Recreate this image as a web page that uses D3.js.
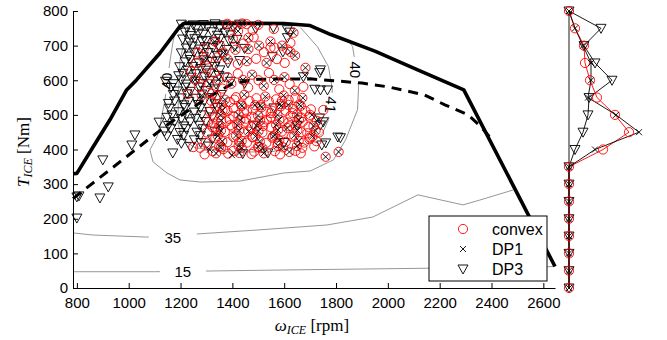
<!DOCTYPE html>
<html>
<head>
<meta charset="utf-8">
<script src="https://d3js.org/d3.v7.min.js"></script>
<style>
  html, body { margin: 0; padding: 0; background: #fff; }
  svg { display: block; }
</style>
</head>
<body>
<div id="chart"></div>
<script>
// ---- data -------------------------------------------------------------
// full load (max torque) curve [rpm, Nm]
const wotCurve = [
  [785, 330], [800, 331], [863, 408], [927, 485], [992, 572], [1030, 601],
  [1120, 678], [1197, 755], [1217, 765], [1600, 764], [1700, 758],
  [1780, 732], [1950, 684], [2115, 630], [2293, 572], [2645, 62]
];

// optimal operating line (dashed)
const optLine = [
  [785, 258], [1148, 471], [1300, 548], [1400, 590], [1500, 603], [1700, 604],
  [1900, 592], [2000, 581], [2140, 558], [2220, 529], [2310, 500],
  [2360, 465], [2392, 437]
];

// efficiency contours
const contour15 = [[785, 47], [1100, 47], [1300, 49], [1700, 53], [2150, 57], [2500, 59], [2640, 62]];
const contour35 = [
  [785, 159], [862, 153], [1074, 147], [1263, 156], [1506, 168], [1765, 182],
  [1942, 205], [2116, 269], [2290, 240], [2355, 254], [2483, 283]
];
const contour40 = [
  [1178, 735], [1171, 711], [1160, 659], [1140, 544], [1121, 471], [1109, 437],
  [1082, 399], [1094, 364], [1148, 332], [1198, 312], [1276, 306], [1431, 309],
  [1597, 332], [1701, 338], [1790, 370], [1837, 428], [1883, 515], [1887, 581],
  [1875, 645], [1864, 697], [1850, 712]
];
const contour41 = [
  [1229, 757], [1198, 659], [1191, 544], [1191, 471], [1210, 428], [1256, 405],
  [1392, 393], [1547, 393], [1663, 408], [1721, 428], [1748, 448], [1771, 486],
  [1779, 529], [1786, 572], [1771, 639], [1728, 697], [1663, 752]
];
// [rpm, Nm, text, rotation, gap width]
const contourLabels = [
  [1170, 147, '35', 0, 48],
  [1209, 46, '15', 0, 46],
  [1145, 598, '40', -90, 26],
  [1873, 630, '40', 90, 26],
  [1780, 529, '41', 95, 24]
];

// operating points
const convexPts = [
  [1380, 763], [1400, 757], [1438, 764], [1455, 762], [1500, 760], [1478, 745], [1422, 742], [1560, 748],
  [1290, 692], [1332, 712], [1352, 700], [1366, 680], [1402, 720], [1412, 688], [1442, 706], [1462, 690],
  [1482, 724], [1503, 700], [1522, 681], [1547, 712], [1562, 694], [1592, 700], [1612, 689], [1636, 737],
  [1624, 682], [1624, 708], [1547, 694], [1462, 723], [1642, 671], [1602, 650], [1572, 661], [1532, 650],
  [1492, 662], [1456, 655], [1421, 647], [1381, 661], [1342, 666], [1302, 660], [1268, 680], [1682, 636],
  [1240, 626], [1256, 601], [1272, 581], [1291, 611], [1311, 589], [1331, 621], [1346, 602], [1362, 576],
  [1382, 609], [1396, 590], [1421, 619], [1441, 601], [1461, 579], [1476, 616], [1501, 600], [1521, 584],
  [1541, 621], [1561, 601], [1581, 574], [1601, 609], [1621, 589], [1641, 570], [1674, 581], [1670, 549],
  [1616, 529], [1282, 556], [1322, 561], [1300, 641], [1260, 650], [1228, 560], [1700, 500], [1751, 514],
  [1760, 379], [1810, 393],
  [1338, 556], [1371, 544], [1414, 551], [1446, 558], [1493, 548], [1527, 553], [1569, 545], [1598, 556], [1643, 549],
  [1318, 541], [1359, 529], [1391, 537], [1433, 530], [1466, 540], [1508, 528], [1541, 539], [1584, 531], [1617, 543], [1658, 530],
  [1334, 524], [1362, 513], [1404, 520], [1437, 526], [1479, 515], [1512, 522], [1553, 512], [1587, 525], [1634, 517], [1664, 526], [1703, 516],
  [1312, 509], [1354, 499], [1381, 511], [1424, 500], [1457, 510], [1499, 498], [1531, 509], [1574, 500], [1606, 512], [1649, 501], [1682, 511],
  [1328, 494], [1357, 484], [1404, 496], [1431, 485], [1474, 495], [1507, 483], [1549, 494], [1581, 486], [1624, 497], [1657, 485], [1697, 495], [1726, 483],
  [1307, 479], [1349, 468], [1377, 481], [1419, 470], [1451, 480], [1494, 468], [1521, 479], [1569, 471], [1597, 482], [1644, 470], [1671, 480], [1713, 468],
  [1324, 464], [1356, 454], [1399, 466], [1426, 455], [1474, 465], [1501, 453], [1549, 464], [1576, 456], [1619, 467], [1651, 455], [1694, 465], [1721, 454],
  [1302, 449], [1344, 439], [1371, 451], [1414, 440], [1446, 450], [1489, 438], [1516, 449], [1564, 441], [1591, 452], [1639, 440], [1666, 450], [1709, 438], [1734, 449],
  [1334, 434], [1361, 424], [1404, 436], [1436, 425], [1479, 435], [1506, 423], [1554, 434], [1581, 426], [1629, 437], [1656, 425], [1699, 435], [1724, 424],
  [1297, 419], [1349, 409], [1381, 421], [1424, 410], [1456, 420], [1499, 408], [1531, 419], [1574, 411], [1606, 422], [1649, 410], [1676, 420], [1716, 409],
  [1276, 405], [1324, 395], [1356, 406], [1404, 396], [1436, 405], [1484, 394], [1516, 404], [1564, 395], [1596, 406], [1644, 396], [1670, 405],
  [1249, 407], [1293, 386], [1337, 389], [1384, 388], [1427, 390], [1474, 387], [1521, 389], [1584, 386], [1620, 393], [1664, 389],
  [1392, 470], [1462, 452], [1533, 486], [1612, 462], [1372, 515], [1488, 528], [1557, 438], [1633, 505], [1426, 422],
  [1502, 407], [1689, 447], [1343, 458], [1453, 489], [1591, 541], [1519, 468], [1667, 492], [1408, 544], [1576, 418],
  [1365, 401], [1477, 436], [1548, 505], [1616, 478], [1389, 488], [1444, 507], [1697, 430], [1328, 475]
];

const dp1Pts = [
  [1438, 764], [1498, 762], [1400, 757], [1422, 742],
  [1332, 712], [1366, 680], [1412, 688], [1462, 690], [1503, 700], [1547, 712], [1592, 700], [1624, 682],
  [1636, 737], [1462, 723], [1642, 671], [1532, 650], [1456, 655], [1381, 661], [1302, 660], [1682, 636],
  [1256, 601], [1311, 589], [1346, 602], [1396, 590], [1441, 601], [1476, 616], [1521, 584], [1561, 601],
  [1601, 609], [1641, 570], [1672, 549], [1680, 615], [1616, 529], [1282, 556], [1707, 500], [1760, 379],
  [1810, 393], [1313, 399], [1398, 384],
  [1371, 544], [1446, 558], [1527, 553], [1598, 556],
  [1359, 529], [1433, 530], [1508, 528], [1584, 531], [1658, 530],
  [1362, 513], [1437, 526], [1512, 522], [1587, 525], [1664, 526],
  [1354, 499], [1424, 500], [1499, 498], [1574, 500], [1649, 501],
  [1357, 484], [1431, 485], [1507, 483], [1581, 486], [1657, 485], [1726, 483],
  [1349, 468], [1419, 470], [1494, 468], [1569, 471], [1644, 470], [1713, 468],
  [1356, 454], [1426, 455], [1501, 453], [1576, 456], [1651, 455], [1721, 454],
  [1344, 439], [1414, 440], [1489, 438], [1564, 441], [1639, 440], [1709, 438],
  [1361, 424], [1436, 425], [1506, 423], [1581, 426], [1656, 425],
  [1349, 409], [1424, 410], [1499, 408], [1574, 411], [1649, 410],
  [1356, 406], [1436, 405], [1516, 404], [1596, 406],
  [1337, 389], [1427, 390], [1521, 389], [1620, 393],
  [1462, 452], [1612, 462], [1488, 528], [1557, 438]
];

const dp3Pts = [
  [1203, 762], [1224, 754], [1249, 760], [1261, 752], [1288, 761], [1304, 755], [1333, 763], [1352, 753],
  [1370, 760], [1404, 754], [1428, 762], [1490, 750], [1558, 752], [1612, 746],
  [1217, 739], [1237, 729], [1269, 736], [1287, 733], [1321, 740], [1342, 730], [1371, 737], [1393, 731],
  [1208, 719], [1235, 710], [1255, 720], [1283, 713], [1297, 715], [1333, 711], [1352, 721], [1388, 714],
  [1418, 718], [1612, 723], [1622, 739],
  [1222, 693], [1245, 699], [1275, 690], [1295, 697], [1325, 694], [1347, 700], [1378, 689], [1408, 698],
  [1447, 692], [1595, 682],
  [1203, 679], [1233, 670], [1252, 681], [1288, 668], [1307, 680], [1343, 671], [1359, 676], [1554, 668],
  [1218, 653], [1237, 660], [1271, 650], [1289, 659], [1321, 654], [1342, 656], [1383, 650], [1428, 657],
  [1197, 639], [1228, 629], [1247, 640], [1278, 634], [1297, 629], [1333, 640], [1352, 630], [1740, 630], [1737, 622],
  [1193, 613], [1209, 620], [1241, 609], [1259, 619], [1293, 610], [1312, 621], [1348, 614], [1369, 609], [1674, 610],
  [1142, 597], [1172, 590], [1203, 601], [1222, 589], [1258, 598], [1277, 591], [1313, 600], [1337, 589], [1393, 597], [1447, 591],
  [1163, 579], [1187, 569], [1218, 580], [1237, 568], [1273, 580], [1297, 570], [1333, 575], [1740, 572], [1767, 572], [1718, 574],
  [1172, 559], [1203, 549], [1225, 561], [1258, 548], [1282, 560], [1323, 550], [1357, 559],
  [1153, 533], [1177, 540], [1213, 529], [1232, 539], [1268, 530], [1292, 540], [1333, 532],
  [1157, 519], [1193, 509], [1217, 521], [1253, 508], [1277, 520], [1313, 510], [1342, 521],
  [1148, 493], [1167, 500], [1203, 489], [1222, 500], [1258, 490], [1282, 500], [1323, 494], [1737, 491],
  [1117, 479], [1153, 469], [1177, 481], [1213, 468], [1237, 480], [1273, 470], [1297, 481], [1751, 480], [1740, 471],
  [1138, 453], [1162, 460], [1198, 449], [1222, 460], [1263, 450], [1287, 460], [1333, 453],
  [1147, 439], [1188, 429], [1212, 441], [1253, 428], [1277, 440], [1323, 430], [1817, 434], [1807, 436], [1760, 419], [1745, 413],
  [1203, 418], [1237, 409], [1278, 420], [1307, 410],
  [1170, 390], [1440, 388], [1537, 390], [1600, 420], [1480, 470], [1560, 520], [1650, 470],
  [1024, 442], [1012, 413], [900, 370], [921, 292], [889, 260], [800, 263], [808, 266], [800, 202]
];

// side panel: number of points per torque level
const torqueBins = [800, 750, 700, 650, 600, 550, 500, 450, 400, 350, 300, 250, 200, 150, 100, 50, 0];
const convexCount = [0, 6, 15, 16, 21, 28, 46, 60, 34, 0, 0, 0, 0, 0, 0, 0, 0];
const dp1Count = [0, 6, 14, 22, 22, 19, 47, 70, 26, 0, 0, 0, 0, 0, 0, 0, 0];
const dp3Count = [0, 32, 15, 26, 43, 20, 19, 14, 6, 0, 0, 0, 0, 0, 0, 0, 0];

const xTicks = [800, 1000, 1200, 1400, 1600, 1800, 2000, 2200, 2400, 2600];
const yTicks = [0, 100, 200, 300, 400, 500, 600, 700, 800];

// ---- layout -----------------------------------------------------------
const width = 667, height = 340;
const sans = '"Liberation Sans", Arial, Helvetica, sans-serif';
const serif = '"Liberation Serif", "Times New Roman", serif';

const svg = d3.select('#chart').append('svg')
  .attr('width', width).attr('height', height)
  .style('background', '#fff');

const x = d3.scaleLinear().domain([785, 2645]).range([73, 555]);
const y = d3.scaleLinear().domain([0, 800]).range([288, 11]);
const distX = d3.scaleLinear().domain([0, 80]).range([569, 649]);

const line = d3.line().x(d => x(d[0])).y(d => y(d[1]));

// contours
const contours = [contour15, contour35, contour40, contour41];
svg.append('g').selectAll('path').data(contours).enter().append('path')
  .attr('d', line)
  .attr('fill', 'none')
  .attr('stroke', '#8a8a8a')
  .attr('stroke-width', 0.9);

// contour labels (with a gap cut into the line)
const lab = svg.append('g').selectAll('g').data(contourLabels).enter().append('g')
  .attr('transform', d => `translate(${x(d[0])},${y(d[1])}) rotate(${d[3]})`);
lab.append('rect')
  .attr('x', d => -d[4] / 2).attr('y', -7)
  .attr('width', d => d[4]).attr('height', 14)
  .attr('fill', '#fff');
lab.append('text')
  .attr('text-anchor', 'middle')
  .attr('dy', '0.36em')
  .style('font-family', sans)
  .style('font-size', '15px')
  .text(d => d[2]);

// full load curve + operating line
svg.append('path').attr('d', line(wotCurve))
  .attr('fill', 'none').attr('stroke', '#000').attr('stroke-width', 3.6)
  .attr('stroke-linejoin', 'round');
svg.append('path').attr('d', line(optLine))
  .attr('fill', 'none').attr('stroke', '#000').attr('stroke-width', 3)
  .attr('stroke-dasharray', '10,7');

// markers
const triPath = 'M-5,-4L5,-4L0,5Z';
const crossPath = 'M-3,-3L3,3M-3,3L3,-3';

function drawTri(g, pts, fx, fy) {
  g.selectAll(null).data(pts).enter().append('path')
    .attr('d', triPath)
    .attr('transform', d => `translate(${fx(d)},${fy(d)})`)
    .attr('fill', 'none').attr('stroke', '#000').attr('stroke-width', 0.9);
}
function drawCircle(g, pts, fx, fy) {
  g.selectAll(null).data(pts).enter().append('circle')
    .attr('cx', fx).attr('cy', fy).attr('r', 4.6)
    .attr('fill', 'none').attr('stroke', '#ff0000').attr('stroke-width', 0.9);
}
function drawCross(g, pts, fx, fy) {
  g.selectAll(null).data(pts).enter().append('path')
    .attr('d', crossPath)
    .attr('transform', d => `translate(${fx(d)},${fy(d)})`)
    .attr('fill', 'none').attr('stroke', '#000').attr('stroke-width', 0.9);
}

const pts = svg.append('g');
const px = d => x(d[0]), py = d => y(d[1]);
drawTri(pts, dp3Pts, px, py);
drawCircle(pts, convexPts, px, py);
drawCross(pts, dp1Pts, px, py);

// axes
const xAxis = svg.append('g')
  .attr('transform', `translate(0,${y(0)})`)
  .call(d3.axisBottom(x).tickValues(xTicks).tickFormat(d3.format('d'))
    .tickSizeInner(-5).tickSizeOuter(0).tickPadding(9));
const yAxis = svg.append('g')
  .attr('transform', `translate(${x.range()[0]},0)`)
  .call(d3.axisLeft(y).tickValues(yTicks).tickFormat(d3.format('d'))
    .tickSizeInner(-5).tickSizeOuter(0).tickPadding(5));
[xAxis, yAxis].forEach(a => {
  a.selectAll('text').style('font-family', sans).style('font-size', '15px').attr('fill', '#000');
  a.selectAll('line,path').attr('stroke', '#000');
});

// axis labels
const xl = svg.append('text')
  .attr('x', 312).attr('y', 331)
  .attr('text-anchor', 'middle')
  .style('font-family', serif).style('font-size', '17px');
xl.append('tspan').style('font-style', 'italic').text('ω');
xl.append('tspan').style('font-style', 'italic').style('font-size', '12px').attr('dy', 3).text('ICE');
xl.append('tspan').attr('dy', -3).text(' [rpm]');

const yl = svg.append('text')
  .attr('transform', 'translate(29,152) rotate(-90)')
  .attr('text-anchor', 'middle')
  .style('font-family', serif).style('font-size', '17px');
yl.append('tspan').style('font-style', 'italic').text('T');
yl.append('tspan').style('font-style', 'italic').style('font-size', '12px').attr('dy', 3).text('ICE');
yl.append('tspan').attr('dy', -3).text(' [Nm]');

// legend
const leg = svg.append('g').attr('transform', 'translate(429,216)');
leg.append('rect').attr('width', 118).attr('height', 65)
  .attr('fill', '#fff').attr('stroke', '#000').attr('stroke-width', 1);
const legItems = [['convex', drawCircle], ['DP1', drawCross], ['DP3', drawTri]];
legItems.forEach((it, i) => {
  const cy = 13 + i * 20;
  it[1](leg, [[34, cy]], d => d[0], d => d[1]);
  leg.append('text').attr('x', 63).attr('y', cy).attr('dy', '0.36em')
    .style('font-family', sans).style('font-size', '16px').text(it[0]);
});

// side panel: distribution over torque levels
const side = svg.append('g');
side.append('line')
  .attr('x1', distX(0)).attr('x2', distX(0))
  .attr('y1', y(800)).attr('y2', y(0))
  .attr('stroke', '#000').attr('stroke-width', 0.9);
const distLine = d3.line().x(d => distX(d[0])).y(d => y(d[1]));
const sideSeries = [
  [dp3Count, '#000', drawTri],
  [convexCount, '#ff0000', drawCircle],
  [dp1Count, '#000', drawCross]
];
sideSeries.forEach(s => {
  const data = s[0].map((c, i) => [c, torqueBins[i]]);
  side.append('path').attr('d', distLine(data))
    .attr('fill', 'none').attr('stroke', s[1]).attr('stroke-width', 0.9);
});
sideSeries.forEach(s => {
  const data = s[0].map((c, i) => [c, torqueBins[i]]);
  s[2](side, data, d => distX(d[0]), d => y(d[1]));
});
</script>
</body>
</html>
